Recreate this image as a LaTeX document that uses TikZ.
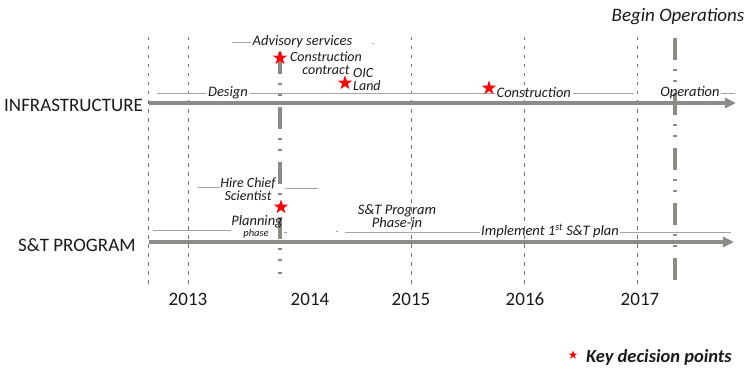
\documentclass[tikz,border=0pt]{standalone}
\usepackage{fontspec}
\setmainfont{Carlito}
\usetikzlibrary{arrows.meta,shapes.geometric}
\definecolor{thickgray}{HTML}{8C8C86}
\definecolor{thingray}{HTML}{A4A4A4}
\definecolor{dotgray}{HTML}{707070}
\definecolor{txt}{HTML}{1A1A1A}
\tikzset{
  gridline/.style={draw=dotgray,line width=0.8pt,dash pattern=on 3.5pt off 5.5pt},
  mainarrow/.style={draw=thickgray,line width=3.6pt,-{Triangle[length=11pt,width=10pt]}},
  milestone/.style={draw=thickgray,line width=3.4pt,dash pattern=on 22pt off 9pt on 2pt off 9pt on 2pt off 11pt},
  thinline/.style={draw=thingray,line width=0.9pt},
  lbl/.style={font=\itshape\fontsize{14.5}{14.5}\selectfont,text=txt,inner sep=1.5pt},
  lbltwo/.style={font=\itshape\fontsize{14}{13}\selectfont,text=txt,inner sep=0pt},
  rowlbl/.style={font=\fontsize{19}{19}\selectfont,text=txt,inner sep=0pt,anchor=base west},
  yearlbl/.style={font=\fontsize{19}{19}\selectfont,text=txt,inner sep=0pt,anchor=base},
  keystar/.style={star,star points=5,star point ratio=2.5,fill=red,draw=none,minimum size=15pt,inner sep=0pt},
}
\begin{document}
\begin{tikzpicture}[x=1pt,y=-1pt]
\useasboundingbox (0,0) rectangle (750,369);
% year grid lines
\foreach \gx/\gn in {148/ga,188/gb,411/gc,524/gd,637/ge}{
  \coordinate (\gn t) at (\gx,37);
  \coordinate (\gn b) at (\gx,285);
  \draw[gridline] (\gn t) -- (\gn b);
}
% main arrows
\coordinate (infs) at (149,103);
\coordinate (infe) at (736,103);
\coordinate (sts) at (149,242);
\coordinate (ste) at (734,242);
\draw[mainarrow] (infs) -- (infe);
\draw[mainarrow] (sts) -- (ste);
% milestone lines
\coordinate (m1t) at (280,52);
\coordinate (m1b) at (280,274);
\coordinate (m2t) at (675,38);
\coordinate (m2b) at (675,283);
\draw[milestone] (m1t) -- (m1b);
\draw[milestone] (m2t) -- (m2b);
% row labels
\node[rowlbl] (infra) at (4,111) {INFRASTRUCTURE};
\node[rowlbl] (stp) at (18,251) {S\&T PROGRAM};
% years
\node[yearlbl] (y13) at (188,305) {2013};
\node[yearlbl] (y14) at (310,305) {2014};
\node[yearlbl] (y15) at (411,305) {2015};
\node[yearlbl] (y16) at (525,305) {2016};
\node[yearlbl] (y17) at (640,305) {2017};
% begin operations
\node[font=\itshape\fontsize{19}{19}\selectfont,text=txt,inner sep=0pt,anchor=base] (begin) at (678,22) {Begin Operations};
% infrastructure row
\node[lbl] (design) at (228,93) {Design};
\node[lbl,anchor=west] (constr) at (495,93) {Construction};
\node[lbl] (oper) at (690,93) {Operation};
\coordinate (d0) at (157,93);
\coordinate (c1) at (634,93);
\coordinate (o1) at (735,93);
\draw[thinline] (d0) -- (design.west);
\draw[thinline] (design.east) -- (constr.west);
\draw[thinline] (constr.east) -- (c1);
\draw[thinline] (oper.east) -- (o1);
\node[lbl,anchor=west] (adv) at (251,42) {Advisory services};
\coordinate (a0) at (232,42);
\coordinate (a1) at (372,43);
\coordinate (a2) at (374,43);
\draw[thinline] (a0) -- (adv.west);
\draw[thinline] (a1) -- (a2);
\node[lbltwo,align=center] (cc) at (326,63) {Construction\\contract};
\node[lbltwo,align=left,anchor=west] (oic) at (353,80) {OIC\\Land};
\node[keystar] (s1) at (280,58) {};
\node[keystar] (s2) at (345,83) {};
\node[keystar] (s3) at (489,88) {};
% S&T row
\node[lbltwo,align=center] (hire) at (248,189) {Hire Chief\\Scientist};
\coordinate (h0) at (198,187);
\coordinate (h1) at (285,188);
\coordinate (h2) at (318,188);
\draw[thinline] (h0) -- (hire.west |- h0);
\draw[thinline] (h1) -- (h2);
\node[keystar] (s4) at (281,207) {};
\node[lbl,inner sep=0pt] (plan) at (257,222) {Planning};
\node[font=\itshape\fontsize{10.5}{10.5}\selectfont,text=txt,inner sep=0pt] (phase) at (256,234) {phase};
\coordinate (p0) at (153,230);
\draw[thinline] (p0) -- (plan.west |- p0);
\coordinate (p2) at (284,232);
\coordinate (p3) at (287,232);
\draw[thinline] (p2) -- (p3);
\coordinate (p4) at (336,231);
\coordinate (p5) at (338,231);
\draw[thinline] (p4) -- (p5);
\node[font=\itshape\fontsize{14.5}{12}\selectfont,text=txt,inner sep=0pt,align=center] (phin) at (397,216) {S\&T Program\\Phase-in};
\node[lbl] (impl) at (550,231) {Implement 1\textsuperscript{st} S\&T plan};
\coordinate (i0) at (345,232);
\coordinate (i1) at (731,232);
\draw[thinline] (i0) -- (impl.west |- i0);
\draw[thinline] (impl.east |- i1) -- (i1);
% legend
\node[keystar,minimum size=9pt] (ks) at (573,355) {};
\node[font=\bfseries\itshape\fontsize{18.5}{18.5}\selectfont,text=txt,inner sep=0pt,anchor=base west] (key) at (586,362) {Key decision points};
\end{tikzpicture}
\end{document}
